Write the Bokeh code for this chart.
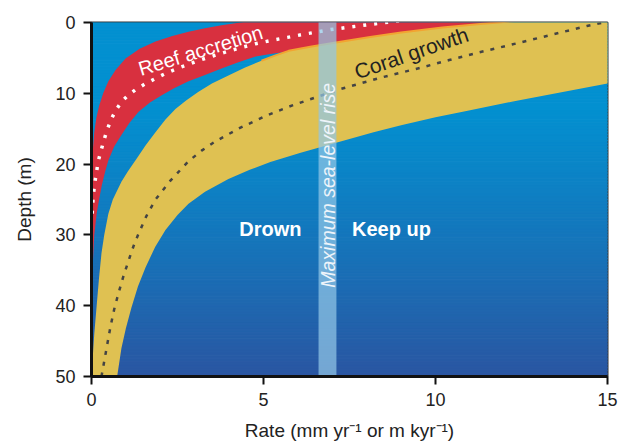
import numpy as np
from bokeh.plotting import figure
from bokeh.models import Range1d, FixedTicker, Label
from bokeh.embed import file_html
from bokeh.resources import INLINE

# ---- data (rate in mm/yr, depth in m) ----
coral_upper_x = [0.0, 0.04, 0.08, 0.15, 0.22, 0.29, 0.37, 0.49, 0.62, 0.87, 1.06, 1.3, 1.58, 1.86, 2.15, 2.44,
                 2.75, 3.1, 3.5, 3.98, 4.45, 4.94, 5.35, 5.73, 6.4, 7.15, 8.1, 9.0, 10.2, 11.3, 13.0, 18.0]
coral_upper_d = [50.5, 47, 44, 40, 36, 32.6, 30, 27, 25, 22.5, 21, 19.3, 17.3, 15.5, 13.7, 12.2,
                 11.0, 9.8, 8.6, 7.5, 6.4, 5.4, 4.65, 4.0, 3.4, 2.8, 2.05, 1.4, 0.7, 0.2, -0.5, -1.0]
coral_lower_x = [0.73, 0.87, 1.0, 1.16, 1.35, 1.57, 1.85, 2.15, 2.5, 2.82, 3.3, 3.98, 4.6, 5.2, 6.08, 7.24,
                 8.2, 9.0, 10.0, 10.9, 12.4, 13.7, 15.0, 18.0]
coral_lower_d = [50.5, 46, 43.2, 40.3, 37.3, 34.6, 31.7, 29.3, 27.2, 25.6, 23.9, 22.1, 20.8, 19.7, 18.4, 16.8,
                 15.5, 14.5, 13.4, 12.5, 11.0, 9.8, 8.6, 6.5]
coral_mid_x = [0.29, 0.42, 0.55, 0.66, 0.78, 0.93, 1.08, 1.22, 1.37, 1.6, 1.86, 2.3, 2.82, 3.2, 3.6, 4.27,
               5.06, 5.73, 6.5, 7.24, 8.4, 9.56, 10.4, 11.2, 12.4, 13.4, 14.4, 15.2]
coral_mid_d = [50, 46.5, 43, 40.5, 38.3, 35.8, 33.6, 31.6, 29.8, 27.3, 25, 22.3, 19.6, 18.1, 16.8, 15,
               13.2, 11.9, 10.6, 9.4, 7.8, 6.4, 5.3, 4.3, 2.9, 1.7, 0.5, -0.3]

reef_outer_x = [0.0, 0.0, 0.01, 0.02, 0.04, 0.08, 0.14, 0.22, 0.34, 0.49, 0.7, 0.99, 1.4, 1.86, 2.35, 2.82,
                3.3, 3.78, 4.6, 6.0, 18.0]
reef_outer_d = [41, 30, 25, 21, 18, 15.5, 13.5, 11.8, 10, 8.3, 6.7, 5.1, 3.7, 2.7, 1.9, 1.3,
                0.8, 0.4, -0.2, -1.0, -1.0]
reef_inner_x = [0.0, 0.03, 0.08, 0.15, 0.22, 0.3, 0.4, 0.49, 0.66, 0.87, 1.1, 1.37, 1.7, 2.03, 2.4, 2.82,
                3.3, 3.78, 4.27, 4.77, 5.25, 5.73, 6.4, 7.15, 8.1, 9.0, 10.2, 11.3, 13.0, 18.0]
reef_inner_d = [41, 35, 30, 27, 25, 23, 21, 19.5, 17.5, 15.9, 14.2, 12.6, 11.3, 10.3, 9.3, 8.3,
                7.4, 6.5, 5.6, 4.8, 4.4, 4.1, 3.5, 2.9, 2.15, 1.5, 0.8, 0.3, -0.4, -1.0]
reef_mid_x = [0.02, 0.05, 0.1, 0.2, 0.35, 0.46, 0.58, 0.72, 0.87, 1.06, 1.28, 1.55, 1.86, 2.15, 2.44, 2.77,
              3.1, 3.55, 3.98, 4.38, 4.77, 5.25, 5.7, 6.3, 6.95, 7.9, 8.7, 9.5]
reef_mid_d = [27, 24.5, 22.5, 19.5, 16.8, 15.1, 13.6, 12.3, 11.2, 10.3, 9.5, 8.7, 7.9, 7.2, 6.6, 6.0,
              5.4, 4.7, 4.05, 3.5, 3.0, 2.5, 2.1, 1.55, 1.0, 0.4, -0.1, -0.5]

slr_left, slr_right = 6.6, 7.12
x_ticks = [0, 5, 10, 15]
y_ticks = [0, 10, 20, 30, 40, 50]

p = figure(width=618, height=445, output_backend="svg", toolbar_location=None,
           x_range=Range1d(0, 15), y_range=Range1d(50, 0),
           min_border_left=91, min_border_right=11, min_border_top=22, min_border_bottom=69)

# background gradient (styling only)
n = 120
edges = np.linspace(0, 50, n + 1)
top_c = np.array([3, 144, 208])
bot_c = np.array([42, 86, 162])
cols = []
for i in range(n):
    d = 0.5 * (edges[i] + edges[i + 1])
    t = np.clip((d - 12) / 38.0, 0, 1) ** 1.1
    c = top_c * (1 - t) + bot_c * t
    cols.append("#%02x%02x%02x" % tuple(int(round(v)) for v in c))
p.quad(left=-1, right=16, top=edges[:-1], bottom=edges[1:], fill_color=cols, line_color=cols, line_width=1)

# reef accretion band (red)
rx = reef_outer_x + reef_inner_x[::-1]
rd = reef_outer_d + reef_inner_d[::-1]
p.patch(rx, rd, fill_color="#d8303f", line_color=None)

# coral growth band (yellow)
cx = coral_upper_x + coral_lower_x[::-1] + [0.0]
cd = coral_upper_d + coral_lower_d[::-1] + [50.5]
p.patch(cx, cd, fill_color="#dfc152", line_color=None)
p.line(coral_upper_x[21:], coral_upper_d[21:], line_color="#f2a431", line_width=2)

# centre lines
p.line(coral_mid_x, coral_mid_d, line_color="#444444", line_width=2.5, line_dash="4 7")
p.line(reef_mid_x, reef_mid_d, line_color="white", line_width=3.5, line_dash="3 8")

# maximum sea-level rise bar
p.quad(left=slr_left, right=slr_right, top=-1, bottom=51, fill_color="#92c6e6", fill_alpha=0.72, line_color=None)

# labels
p.add_layout(Label(x=3.17, y=3.95, text="Reef accretion", angle=np.deg2rad(17), text_align="center",
                   text_baseline="middle", text_color="white", text_font="Liberation Sans", text_font_size="20px"))
p.add_layout(Label(x=9.3, y=4.3, text="Coral growth", angle=np.deg2rad(19), text_align="center",
                   text_baseline="middle", text_color="#222222", text_font="Liberation Sans", text_font_size="21px"))
p.add_layout(Label(x=6.87, y=23.0, text="Maximum sea-level rise", angle=np.pi / 2, text_align="center",
                   text_baseline="middle", text_color="#eef4fa", text_font="Liberation Sans",
                   text_font_style="italic", text_font_size="19.5px"))
p.add_layout(Label(x=5.2, y=29.1, text="Drown", text_align="center", text_baseline="middle",
                   text_color="white", text_font="Liberation Sans", text_font_style="bold", text_font_size="20px"))
p.add_layout(Label(x=8.72, y=29.1, text="Keep up", text_align="center", text_baseline="middle",
                   text_color="white", text_font="Liberation Sans", text_font_style="bold", text_font_size="20px"))

# axes
p.grid.visible = False
p.xaxis.ticker = FixedTicker(ticks=x_ticks)
p.yaxis.ticker = FixedTicker(ticks=y_ticks)
p.xaxis.axis_label = "Rate (mm yr\u207b\u00b9 or m kyr\u207b\u00b9)"
p.yaxis.axis_label = "Depth (m)"
for ax in (p.xaxis[0], p.yaxis[0]):
    ax.axis_line_width = 3
    ax.axis_line_color = "#111111"
    ax.major_tick_line_width = 2
    ax.major_tick_line_color = "#111111"
    ax.major_tick_out = 8
    ax.major_tick_in = 0
    ax.minor_tick_line_color = None
    ax.major_label_text_font = "Liberation Sans"
    ax.major_label_text_font_size = "18px"
    ax.major_label_text_color = "#222222"
    ax.major_label_standoff = 8
    ax.axis_label_text_font = "Liberation Sans"
    ax.axis_label_text_font_size = "19px"
    ax.axis_label_text_font_style = "normal"
    ax.axis_label_text_color = "#222222"
p.yaxis.axis_label_standoff = 17
p.xaxis.axis_label_standoff = 11
p.outline_line_color = "#333333"
p.outline_line_width = 2
p.background_fill_color = "white"
p.border_fill_color = "white"

open("out.html", "w").write(file_html(p, INLINE))
